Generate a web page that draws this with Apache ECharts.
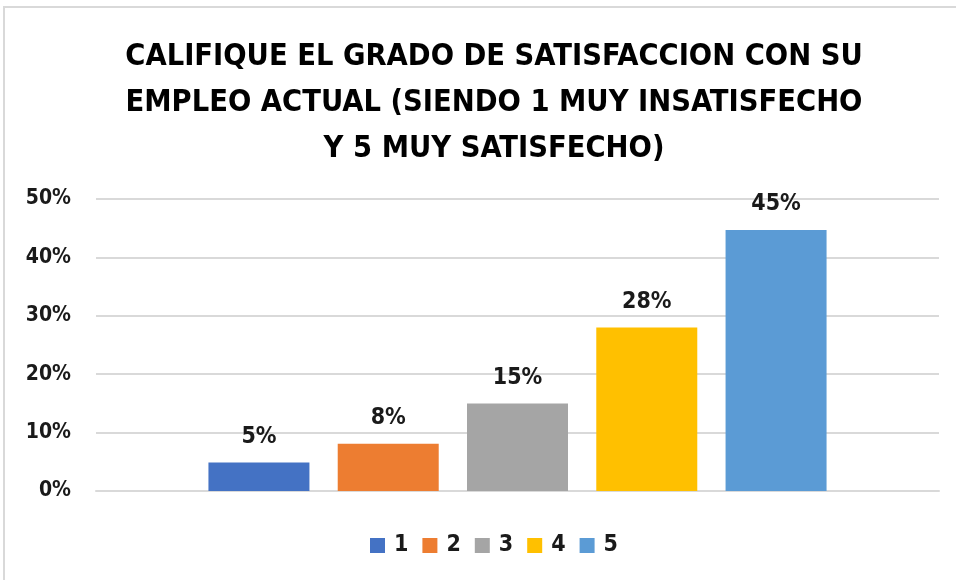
<!DOCTYPE html>
<html>
<head>
<meta charset="utf-8">
<script src="https://cdn.jsdelivr.net/npm/echarts@6/dist/echarts.min.js"></script>
<style>
  html, body { margin: 0; padding: 0; background: #fff; }
  #chart { width: 956px; height: 580px; }
</style>
</head>
<body>
<div id="chart"></div>
<script>
// datos
const seriesNames = ['1', '2', '3', '4', '5']
const seriesValues = [0.049, 0.081, 0.15, 0.28, 0.447]
const seriesColors = ['#4472C4', '#ED7D31', '#A5A5A5', '#FFC000', '#5B9BD5']
const categories = ['']

const fontFam = '"Liberation Sans Narrow", "DejaVu Sans Condensed", sans-serif'

const chart = echarts.init(document.getElementById('chart'))

const series = seriesNames.map((name, i) => ({
  name: name,
  type: 'bar',
  data: [seriesValues[i]],
  barWidth: 101,
  barGap: '28%',
  itemStyle: { color: seriesColors[i] },
  label: {
    show: true,
    position: 'top',
    distance: 14,
    color: '#1a1a1a',
    fontWeight: 'bold',
    fontSize: 23,
    fontFamily: fontFam,
    formatter: p => Math.round(p.value * 100) + '%'
  }
}))

chart.setOption({
  animation: false,
  graphic: [{
    type: 'rect',
    shape: { x: 4, y: 7, width: 1000, height: 700 },
    style: { fill: null, stroke: '#d9d9d9', lineWidth: 2 },
    silent: true
  }],
  title: {
    text: 'CALIFIQUE EL GRADO DE SATISFACCION CON SU\nEMPLEO ACTUAL (SIENDO 1 MUY INSATISFECHO\nY 5 MUY SATISFECHO)',
    left: 489,
    textAlign: 'center',
    top: 29,
    textStyle: {
      color: '#000',
      fontWeight: 'bold',
      fontSize: 30.5,
      lineHeight: 46,
      fontFamily: fontFam,
      align: 'center'
    }
  },
  legend: {
    data: seriesNames,
    bottom: 18,
    left: 365,
    icon: 'rect',
    itemWidth: 15,
    itemHeight: 15,
    itemGap: 14,
    textStyle: {
      color: '#1a1a1a',
      fontWeight: 'bold',
      fontSize: 23,
      fontFamily: fontFam,
      padding: [0, 0, 0, 4]
    }
  },
  grid: {
    left: 96,
    right: 17,
    top: 199,
    bottom: 89
  },
  xAxis: {
    type: 'category',
    data: categories,
    axisLine: { show: true, lineStyle: { color: '#d9d9d9', width: 2 } },
    axisTick: { show: false },
    axisLabel: { show: false }
  },
  yAxis: {
    type: 'value',
    min: 0,
    max: 0.5,
    interval: 0.1,
    axisLine: { show: false },
    axisTick: { show: false },
    splitLine: { lineStyle: { color: '#d9d9d9', width: 2 } },
    axisLabel: {
      margin: 25,
      color: '#1a1a1a',
      fontWeight: 'bold',
      fontSize: 21,
      fontFamily: fontFam,
      formatter: v => Math.round(v * 100) + '%'
    }
  },
  series: series
})
</script>
</body>
</html>
